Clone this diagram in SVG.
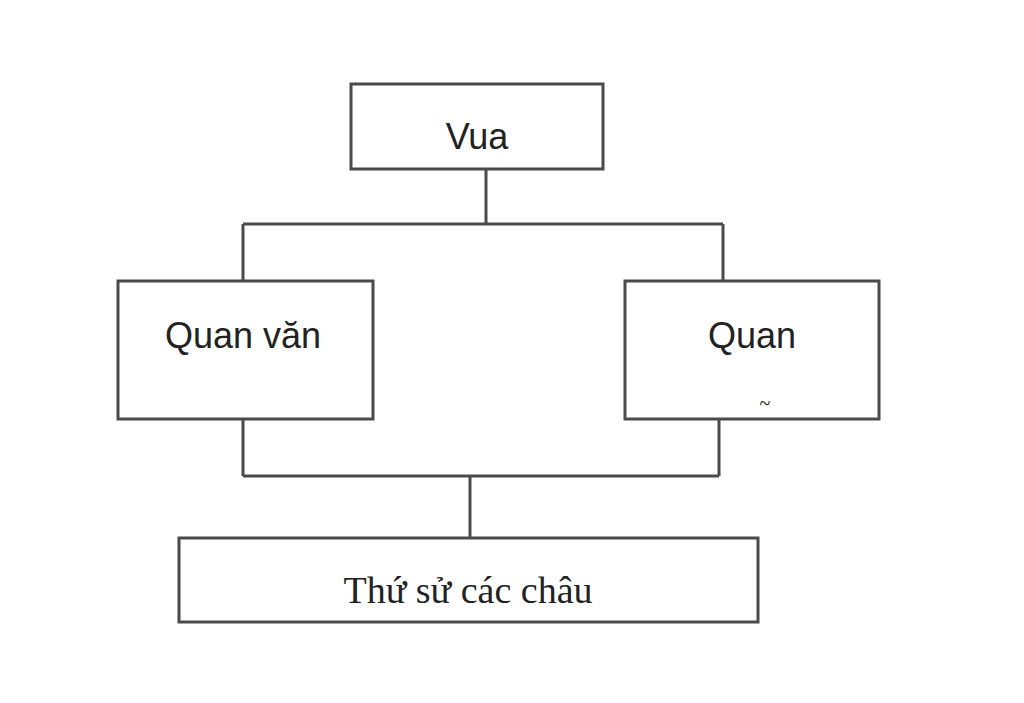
<svg xmlns="http://www.w3.org/2000/svg" width="1024" height="703" viewBox="0 0 1024 703">
<style>
rect{fill:#fff;stroke:#4a4a4a;stroke-width:3}
.c line{stroke:#4a4a4a;stroke-width:3}
.s{font-family:"Liberation Sans",Arial,sans-serif;font-size:36px;fill:#222;text-anchor:middle}
.t{font-family:"Liberation Serif","Times New Roman",serif;font-size:38px;fill:#222;text-anchor:middle}
</style>
<rect x="0" y="0" width="1024" height="703" style="stroke:none"/>
<g class="c">
<line x1="486" y1="169" x2="486" y2="224"/>
<line x1="243" y1="224" x2="723" y2="224"/>
<line x1="243" y1="224" x2="243" y2="281"/>
<line x1="723" y1="224" x2="723" y2="281"/>
<line x1="243" y1="419" x2="243" y2="476"/>
<line x1="719" y1="419" x2="719" y2="476"/>
<line x1="243" y1="476" x2="719" y2="476"/>
<line x1="470" y1="476" x2="470" y2="538"/>
</g>
<g id="vua"><rect x="351" y="84" width="252" height="85"/><text class="s" x="477" y="149">Vua</text></g>
<g id="quanvan"><rect x="118" y="281" width="255" height="138"/><text class="s" x="243" y="348">Quan văn</text></g>
<g id="quan"><rect x="625" y="281" width="254" height="138"/><text class="s" x="752" y="348">Quan</text><text class="t" x="765" y="410" style="font-size:20px">~</text></g>
<g id="thusu"><rect x="179" y="538" width="579" height="84"/><text class="t" x="468" y="603">Thứ sử các châu</text></g>
</svg>
